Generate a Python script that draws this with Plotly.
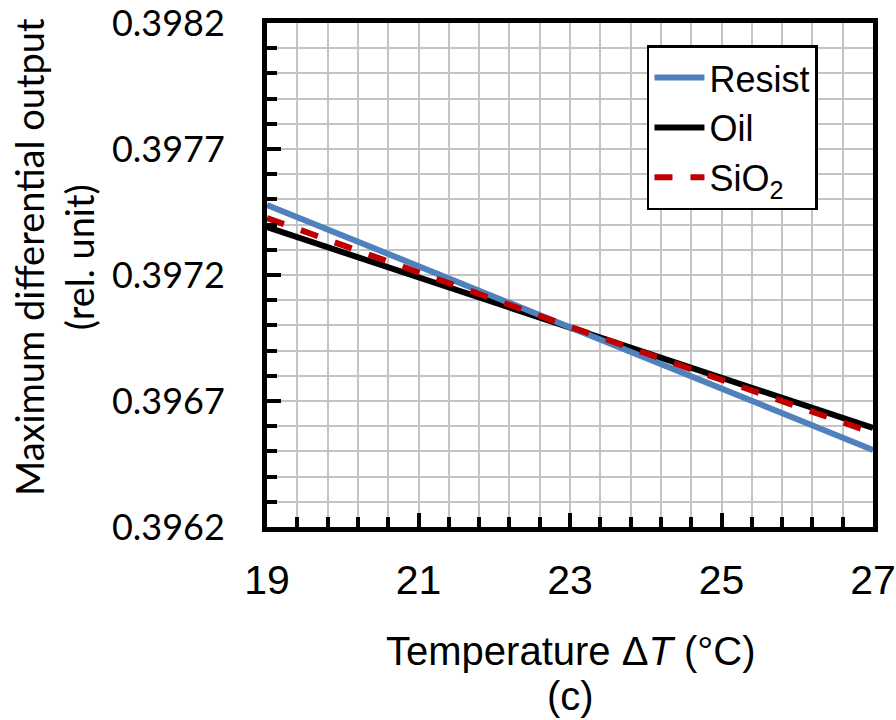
import plotly.graph_objects as go

temps = [19, 23, 27]
resist = [0.397478, 0.396992, 0.396506]
oil = [0.397390, 0.396992, 0.396593]
sio2 = [0.397426, 0.396995, 0.396573]

x_ticks = [19, 21, 23, 25, 27]
y_ticks = [0.3962, 0.3967, 0.3972, 0.3977, 0.3982]

fig = go.Figure()
fig.add_trace(go.Scatter(x=temps, y=oil, name="Oil", mode="lines",
                         line=dict(color="#000000", width=6), legendrank=2))
fig.add_trace(go.Scatter(x=temps, y=resist, name="Resist", mode="lines",
                         line=dict(color="#4f81bd", width=6), legendrank=1))
fig.add_trace(go.Scatter(x=temps, y=sio2, name="SiO<sub>2</sub>", mode="lines",
                         line=dict(color="#c00000", width=6, dash="dash"), legendrank=3))

grid = "#c4c4c4"
fig.update_layout(
    width=896, height=720,
    margin=dict(l=267, r=23, t=23, b=193, autoexpand=False),
    plot_bgcolor="white", paper_bgcolor="white",
    showlegend=True,
    legend=dict(x=0.627, y=0.956, xanchor="left", yanchor="top",
                bordercolor="black", borderwidth=2.5, bgcolor="white",
                font=dict(family="Liberation Sans", size=36, color="black"),
                tracegroupgap=0, itemwidth=50),
    xaxis=dict(range=[19, 27], tickvals=x_ticks, ticktext=[str(v) for v in x_ticks],
               ticks="inside", ticklen=14, tickwidth=4, tickcolor="black",
               showline=True, linewidth=5, linecolor="black", mirror=True,
               showgrid=True, gridcolor=grid, gridwidth=1.5,
               minor=dict(dtick=0.4, tick0=19, ticks="inside", ticklen=10, tickwidth=4,
                          tickcolor="black", showgrid=True, gridcolor=grid, gridwidth=1.5),
               tickfont=dict(family="Liberation Sans", size=41, color="black"),
               ticklabelstandoff=13, ticklabeloverflow="allow", zeroline=False),
    yaxis=dict(range=[0.3962, 0.3982], tickvals=y_ticks, ticktext=[f"{v:.4f}" for v in y_ticks],
               ticks="inside", ticklen=14, tickwidth=4, tickcolor="black",
               showline=True, linewidth=5, linecolor="black", mirror=True,
               showgrid=True, gridcolor=grid, gridwidth=1.5,
               minor=dict(dtick=0.0001, tick0=0.3962, ticks="inside", ticklen=10, tickwidth=4,
                          tickcolor="black", showgrid=True, gridcolor=grid, gridwidth=1.5),
               tickfont=dict(family="Lato, Noto Sans", size=36, color="black"),
               ticklabelstandoff=30, ticklabeloverflow="allow", zeroline=False),
    annotations=[
        dict(text="Maximum differential output<br>(rel. unit)", textangle=-90,
             xref="paper", yref="paper", x=-0.352, y=0.535, xanchor="center", yanchor="middle",
             showarrow=False, font=dict(family="Lato, Noto Sans", size=38, color="black")),
        dict(text="Temperature Δ<i>T</i> (°C)",
             xref="paper", yref="paper", x=0.5, y=-0.246, xanchor="center", yanchor="middle",
             showarrow=False, font=dict(family="Liberation Sans", size=40, color="black")),
        dict(text="(c)",
             xref="paper", yref="paper", x=0.5, y=-0.336, xanchor="center", yanchor="middle",
             showarrow=False, font=dict(family="Liberation Sans", size=40, color="black")),
    ],
)

fig.write_html("out.html", config={"displayModeBar": False},
               post_script="document.body.style.margin='0px';")
